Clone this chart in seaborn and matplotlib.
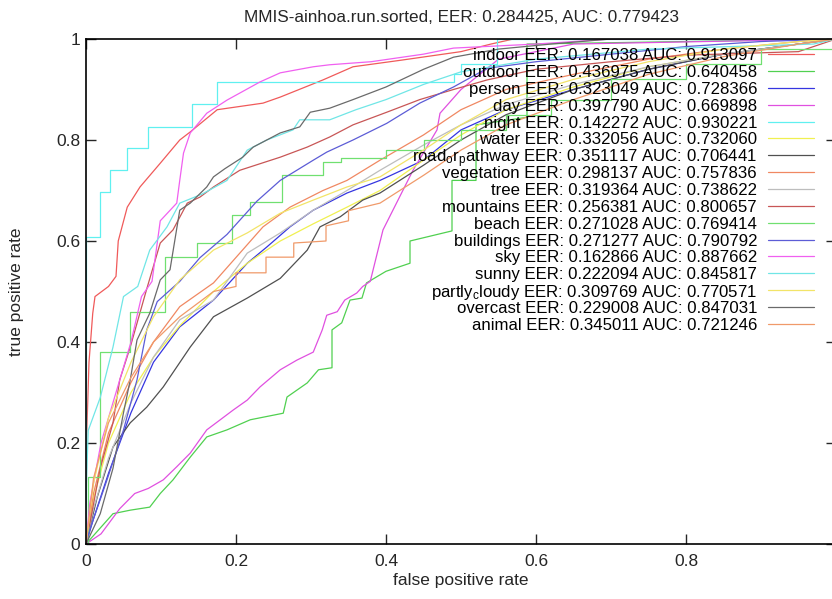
import matplotlib
matplotlib.use("Agg")
import matplotlib.pyplot as plt
import seaborn as sns

sns.set_style("ticks")
plt.rcParams["font.family"] = ["Liberation Sans", "DejaVu Sans"]
plt.rcParams["mathtext.default"] = "regular"

# ---- ROC curves (fpr, tpr) ----
indoor_fpr = [0, 0.001, 0.004, 0.009, 0.012, 0.03, 0.04, 0.043, 0.055, 0.072, 0.099, 0.125, 0.139,
              0.175, 0.236, 0.259, 0.316, 0.356, 0.42, 0.5, 0.54, 0.57, 1.0]
indoor_tpr = [0, 0.22, 0.36, 0.457, 0.49, 0.51, 0.53, 0.60, 0.667, 0.707, 0.754, 0.80, 0.816,
              0.86, 0.873, 0.885, 0.919, 0.945, 0.958, 0.975, 0.99, 1.0, 1.0]

outdoor_fpr = [0, 0.012, 0.036, 0.059, 0.085, 0.099, 0.116, 0.139, 0.161, 0.188, 0.219, 0.263, 0.268,
               0.295, 0.31, 0.328, 0.328, 0.341, 0.352, 0.368, 0.374, 0.40, 0.432, 0.432, 0.488, 0.488,
               0.52, 0.52, 0.588, 0.588, 0.8, 1.0]
outdoor_tpr = [0, 0.02, 0.06, 0.067, 0.073, 0.1, 0.127, 0.172, 0.212, 0.226, 0.246, 0.259, 0.291,
               0.319, 0.345, 0.349, 0.424, 0.438, 0.483, 0.487, 0.517, 0.54, 0.556, 0.60, 0.62, 0.72,
               0.72, 0.83, 0.845, 0.99, 0.995, 1.0]

mid_fpr = [0, 0.01, 0.03, 0.06, 0.09, 0.125, 0.17, 0.215, 0.259, 0.303, 0.348, 0.392, 0.45, 0.5,
           0.56, 0.65, 0.75, 0.85, 0.95, 1.0]

person_fpr = [0, 0.01, 0.03, 0.06, 0.09, 0.125, 0.17, 0.215, 0.241, 0.272, 0.303, 0.348, 0.392, 0.45,
              0.5, 0.56, 0.65, 0.75, 0.85, 0.95, 1.0]
person_tpr = [0, 0.05, 0.14, 0.26, 0.36, 0.43, 0.483, 0.556, 0.588, 0.628, 0.661, 0.695, 0.72, 0.76,
              0.82, 0.86, 0.90, 0.94, 0.97, 0.99, 1.0]

day_fpr = [0, 0.01, 0.02, 0.03, 0.045, 0.065, 0.083, 0.103, 0.121, 0.139, 0.161, 0.179, 0.196, 0.215,
           0.232, 0.259, 0.281, 0.303, 0.315, 0.321, 0.335, 0.345, 0.361, 0.369, 0.379, 0.396, 0.436,
           0.468, 0.472, 0.5, 0.55, 0.65, 1.0]
day_tpr = [0, 0.01, 0.02, 0.04, 0.07, 0.1, 0.11, 0.127, 0.153, 0.18, 0.226, 0.246, 0.265, 0.285,
           0.311, 0.345, 0.364, 0.38, 0.424, 0.453, 0.46, 0.483, 0.497, 0.51, 0.52, 0.622, 0.74,
           0.82, 0.853, 0.9, 0.96, 0.99, 1.0]

night_fpr = [0, 0, 0.018, 0.032, 0.055, 0.083, 0.141, 0.175, 0.49, 0.50, 0.548, 1.0]
night_tpr = [0, 0.608, 0.697, 0.74, 0.784, 0.826, 0.871, 0.915, 0.93, 0.95, 1.0, 1.0]

water_tpr = [0, 0.09, 0.2, 0.3, 0.37, 0.432, 0.5, 0.556, 0.60, 0.634, 0.667, 0.70, 0.76, 0.81,
             0.86, 0.905, 0.945, 0.97, 0.99, 1.0]

road_fpr = [0, 0.001, 0.015, 0.036, 0.059, 0.081, 0.103, 0.139, 0.17, 0.215, 0.259, 0.295, 0.312,
            0.339, 0.369, 0.392, 0.45, 0.5, 0.56, 0.65, 0.75, 0.85, 0.95, 1.0]
road_tpr = [0, 0.008, 0.093, 0.192, 0.24, 0.271, 0.311, 0.39, 0.45, 0.487, 0.526, 0.582, 0.628,
            0.648, 0.681, 0.695, 0.75, 0.80, 0.85, 0.90, 0.94, 0.97, 0.99, 1.0]

vegetation_fpr = [0, 0.01, 0.03, 0.06, 0.09, 0.125, 0.17, 0.236, 0.272, 0.316, 0.348, 0.392, 0.45,
                  0.5, 0.56, 0.65, 0.75, 0.85, 0.95, 1.0]
vegetation_tpr = [0, 0.1, 0.22, 0.32, 0.4, 0.47, 0.517, 0.628, 0.667, 0.70, 0.72, 0.76, 0.81,
                  0.86, 0.9, 0.93, 0.96, 0.98, 0.995, 1.0]

tree_tpr = [0, 0.07, 0.17, 0.28, 0.37, 0.444, 0.483, 0.576, 0.616, 0.661, 0.70, 0.74, 0.79, 0.83,
            0.87, 0.91, 0.945, 0.97, 0.99, 1.0]

mountains_fpr = [0, 0.019, 0.036, 0.045, 0.059, 0.08, 0.099, 0.116, 0.135, 0.152, 0.17, 0.205, 0.232,
                 0.259, 0.295, 0.325, 0.356, 0.401, 0.445, 0.49, 0.535, 0.6, 0.7, 0.8, 0.95, 0.98, 1.0]
mountains_tpr = [0, 0.15, 0.24, 0.325, 0.39, 0.5, 0.596, 0.622, 0.675, 0.687, 0.707, 0.74, 0.753,
                 0.766, 0.786, 0.806, 0.83, 0.855, 0.88, 0.9, 0.919, 0.94, 0.955, 0.968, 0.975, 0.99, 1.0]

beach_fpr = [0, 0.002, 0.019, 0.059, 0.105, 0.148, 0.195, 0.219, 0.261, 0.316, 0.34, 0.40, 0.45,
             0.50, 0.56, 0.62, 0.70, 0.80, 0.90, 1.0]
beach_tpr = [0, 0.133, 0.38, 0.459, 0.568, 0.596, 0.651, 0.677, 0.731, 0.756, 0.765, 0.78, 0.80,
             0.82, 0.85, 0.88, 0.92, 0.95, 0.98, 1.0]

buildings_fpr = [0, 0.005, 0.028, 0.05, 0.068, 0.081, 0.095, 0.125, 0.152, 0.188, 0.228, 0.259, 0.303,
                 0.321, 0.356, 0.401, 0.445, 0.49, 0.535, 0.6, 0.7, 0.8, 0.9, 1.0]
buildings_tpr = [0, 0.028, 0.127, 0.226, 0.325, 0.424, 0.48, 0.52, 0.567, 0.613, 0.679, 0.72, 0.76,
                 0.776, 0.80, 0.833, 0.873, 0.905, 0.942, 0.955, 0.97, 0.985, 0.995, 1.0]

sky_fpr = [0, 0.005, 0.02, 0.04, 0.06, 0.074, 0.088, 0.099, 0.121, 0.125, 0.13, 0.139, 0.161, 0.188,
           0.232, 0.259, 0.303, 0.325, 0.38, 0.45, 0.49, 0.6, 0.7, 1.0]
sky_tpr = [0, 0.08, 0.2, 0.3, 0.4, 0.49, 0.52, 0.64, 0.675, 0.72, 0.774, 0.814, 0.853, 0.879,
           0.915, 0.933, 0.945, 0.949, 0.955, 0.97, 0.982, 0.99, 1.0, 1.0]

sunny_fpr = [0, 0.0, 0.003, 0.019, 0.036, 0.05, 0.069, 0.085, 0.108, 0.125, 0.155, 0.188, 0.215,
             0.241, 0.276, 0.285, 0.325, 0.36, 0.4, 0.45, 0.5, 0.6, 0.75, 0.97, 1.0]
sunny_tpr = [0, 0.1, 0.225, 0.29, 0.39, 0.49, 0.51, 0.582, 0.628, 0.675, 0.693, 0.72, 0.78,
             0.80, 0.82, 0.84, 0.84, 0.86, 0.88, 0.91, 0.935, 0.96, 0.98, 0.99, 1.0]

partly_tpr = [0, 0.12, 0.25, 0.36, 0.45, 0.523, 0.582, 0.616, 0.655, 0.681, 0.707, 0.727, 0.78,
              0.83, 0.88, 0.92, 0.955, 0.98, 0.995, 1.0]

overcast_fpr = [0, 0.019, 0.036, 0.05, 0.059, 0.068, 0.085, 0.099, 0.112, 0.125, 0.139, 0.161, 0.17,
                0.185, 0.209, 0.223, 0.259, 0.285, 0.299, 0.325, 0.356, 0.4, 0.45, 0.49, 0.55, 0.62,
                0.7, 1.0]
overcast_tpr = [0, 0.06, 0.15, 0.26, 0.325, 0.404, 0.457, 0.523, 0.543, 0.661, 0.675, 0.707, 0.727,
                0.743, 0.766, 0.786, 0.814, 0.826, 0.855, 0.863, 0.88, 0.905, 0.94, 0.964, 0.98, 0.99,
                1.0, 1.0]

animal_fpr = [0, 0.01, 0.03, 0.06, 0.09, 0.125, 0.17, 0.2, 0.2, 0.24, 0.24, 0.277, 0.277, 0.32, 0.32,
              0.35, 0.35, 0.392, 0.45, 0.5, 0.56, 0.65, 0.75, 0.85, 0.95, 1.0]
animal_tpr = [0, 0.13, 0.24, 0.33, 0.40, 0.45, 0.5, 0.51, 0.537, 0.537, 0.568, 0.568, 0.596, 0.6,
              0.63, 0.64, 0.66, 0.675, 0.73, 0.78, 0.83, 0.88, 0.93, 0.965, 0.99, 1.0]

names = ["indoor", "outdoor", "person", "day", "night", "water", "road$_o$r$_p$athway",
         "vegetation", "tree", "mountains", "beach", "buildings", "sky", "sunny",
         "partly$_c$loudy", "overcast", "animal"]
eers = ["0.167038", "0.436975", "0.323049", "0.397790", "0.142272", "0.332056", "0.351117",
        "0.298137", "0.319364", "0.256381", "0.271028", "0.271277", "0.162866", "0.222094",
        "0.309769", "0.229008", "0.345011"]
aucs = ["0.913097", "0.640458", "0.728366", "0.669898", "0.930221", "0.732060", "0.706441",
        "0.757836", "0.738622", "0.800657", "0.769414", "0.790792", "0.887662", "0.845817",
        "0.770571", "0.847031", "0.721246"]
colors = ["#f05a5a", "#50d050", "#3535e0", "#e050e0", "#60f0f0", "#f0f050", "#505050",
          "#f08862", "#bdbdbd", "#c85656", "#70e070", "#5c5cd6", "#f060f0", "#70e6e6",
          "#f2e468", "#6a6a6a", "#f09a6a"]

fprs = [indoor_fpr, outdoor_fpr, person_fpr, day_fpr, night_fpr, mid_fpr, road_fpr,
        vegetation_fpr, mid_fpr, mountains_fpr, beach_fpr, buildings_fpr, sky_fpr, sunny_fpr,
        mid_fpr, overcast_fpr, animal_fpr]
tprs = [indoor_tpr, outdoor_tpr, person_tpr, day_tpr, night_tpr, water_tpr, road_tpr,
        vegetation_tpr, tree_tpr, mountains_tpr, beach_tpr, buildings_tpr, sky_tpr, sunny_tpr,
        partly_tpr, overcast_tpr, animal_tpr]
stepped = ["night", "beach"]

fig = plt.figure(figsize=(8.32, 5.99), dpi=100)
ax = fig.add_axes([86 / 832, 55 / 599, 750 / 832, 505 / 599])

for name, fpr, tpr, col in zip(names, fprs, tprs, colors):
    ds = "steps-post" if name in stepped else "default"
    sns.lineplot(x=fpr, y=tpr, ax=ax, color=col, lw=0.9, estimator=None, sort=False,
                 drawstyle=ds)

# gnuplot-like key: text right aligned, sample line on the right
for i, (name, eer, auc, col) in enumerate(zip(names, eers, aucs, colors)):
    y = 0.970 - i * 0.03337
    ax.text(0.8947, y, f"{name} EER: {eer} AUC: {auc}", ha="right", va="center_baseline",
            fontsize=12.1, color="black", transform=ax.transAxes)
    ax.plot([0.909, 0.971], [y, y], color=col, lw=0.9, transform=ax.transAxes)

ax.set_xlim(0, 1)
ax.set_ylim(0, 1)
ax.set_xticks([0, 0.2, 0.4, 0.6, 0.8, 1.0])
ax.set_xticklabels(["0", "0.2", "0.4", "0.6", "0.8", ""])
ax.set_yticks([0, 0.2, 0.4, 0.6, 0.8, 1.0])
ax.set_yticklabels(["0", "0.2", "0.4", "0.6", "0.8", "1"])
ax.tick_params(direction="in", top=True, right=True, length=7, width=1, labelsize=12.5)
ax.tick_params(axis="x", pad=7)
ax.tick_params(axis="y", pad=4)
for sp in ax.spines.values():
    sp.set_linewidth(1.2)
    sp.set_color("black")

ax.set_title("MMIS-ainhoa.run.sorted, EER: 0.284425, AUC: 0.779423", fontsize=12.3, pad=12)
ax.set_xlabel("false positive rate", fontsize=12.5)
ax.set_ylabel("true positive rate", fontsize=12.5)
ax.xaxis.set_label_coords(0.5, -0.057)
ax.yaxis.set_label_coords(-0.083, 0.5)

fig.savefig("out.png", dpi=100)
